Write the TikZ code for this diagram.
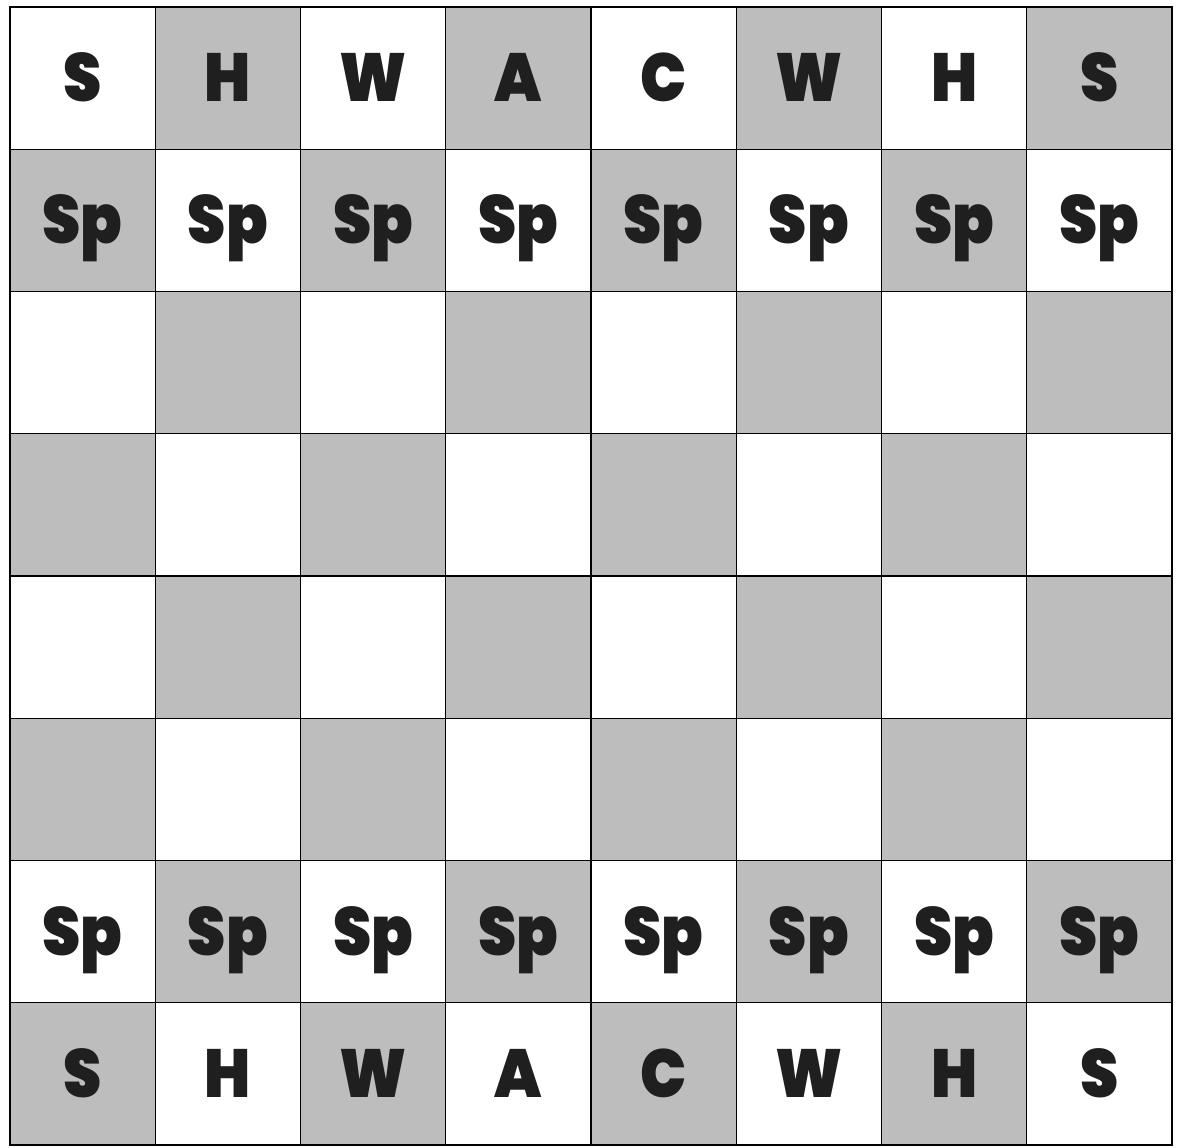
\documentclass[tikz,border=0pt]{standalone}
\usepackage{fontspec}
\newfontfamily\piecefont{Poppins Black}[FakeStretch=0.9]
\begin{document}
\begin{tikzpicture}[x=1pt, y=-1pt,
  every node/.style={font=\piecefont\fontsize{68}{70}\selectfont, text=black!88},
  square/.style={draw, line width=1.2pt, minimum width=145.25pt, minimum height=142.25pt,
    inner sep=0pt, outer sep=0pt, text height=47pt, text depth=0pt}]
  \useasboundingbox (0,0) rectangle (1184,1148);
  % board: back rank letters, pawn rows, empty middle
  \foreach \r in {0,...,7}
    \foreach \p [count=\c from 0] in {S,H,W,A,C,W,H,S} {
      \pgfmathtruncatemacro\shade{mod(\r+\c,2)}
      \ifnum\shade=1 \def\tone{black!26}\else\def\tone{white}\fi
      \ifcase\r \def\lbl{\p}\or\def\lbl{Sp}\or\def\lbl{}\or\def\lbl{}\or
        \def\lbl{}\or\def\lbl{}\or\def\lbl{Sp}\else\def\lbl{\p}\fi
      \node[square, fill=\tone] (sq-\r-\c)
        at ({10+145.25*(\c+0.5)}, {7+142.25*(\r+0.5)}) {\lbl};
    }
\end{tikzpicture}
\end{document}
